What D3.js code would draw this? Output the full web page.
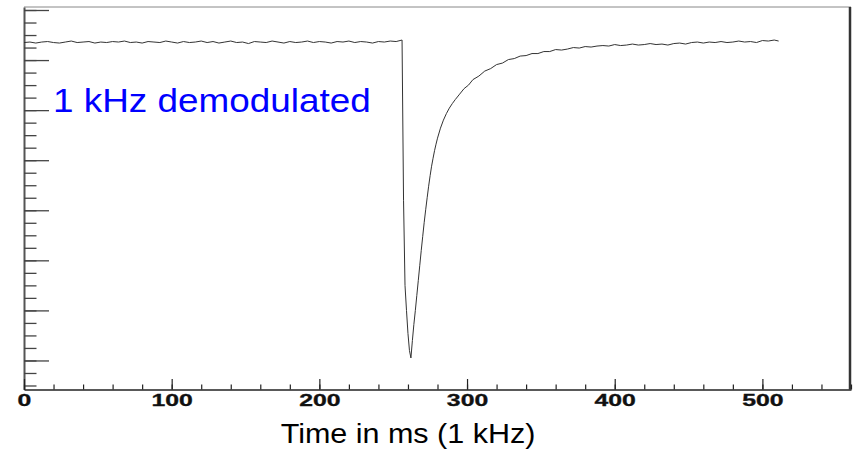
<!DOCTYPE html>
<html>
<head>
<meta charset="utf-8">
<script src="https://cdn.jsdelivr.net/npm/d3@7"></script>
<style>
  body { margin: 0; background: #fff; }
  svg { display: block; }
</style>
</head>
<body>
<div id="root"></div>
<script>
const width = 855;
const height = 454;

// samples before the dip, every 4 ms from 0 to 256
const preTime = d3.range(0, 257, 4);
const preSignal = [
  6.35, 6.36, 6.34, 6.36, 6.37, 6.35, 6.34, 6.36, 6.38, 6.35, 6.36, 6.37, 6.34, 6.36, 6.35, 6.37,
  6.36, 6.38, 6.35, 6.36, 6.34, 6.37, 6.36, 6.35, 6.38, 6.36, 6.34, 6.37, 6.35, 6.36, 6.38, 6.35,
  6.37, 6.34, 6.36, 6.38, 6.35, 6.36, 6.33, 6.37, 6.36, 6.35, 6.38, 6.36, 6.34, 6.37, 6.35, 6.36,
  6.38, 6.35, 6.37, 6.36, 6.34, 6.37, 6.36, 6.38, 6.35, 6.37, 6.36, 6.34, 6.37, 6.36, 6.38, 6.37,
  6.40
];

// the dip and the recovery
const dipTime = [
  257, 258, 259, 260, 261, 262, 263, 264, 265, 266, 267, 268, 269, 270, 271, 272, 273, 274,
  275, 276, 277, 278, 279, 280, 282, 284, 286, 288, 290, 292, 295, 298, 301, 304, 308, 312,
  316, 320, 324, 328, 332, 336, 340, 344, 348, 352, 356, 360, 364
];
const dipSignal = [
  3.20, 1.50, 1.00, 0.54, 0.20, 0.05, 0.40, 0.72, 1.00, 1.30, 1.60, 1.90, 2.20, 2.48, 2.76, 3.01, 3.25, 3.48,
  3.69, 3.88, 4.04, 4.19, 4.32, 4.44, 4.64, 4.80, 4.93, 5.04, 5.13, 5.21, 5.32, 5.43, 5.50, 5.61, 5.68, 5.78,
  5.83, 5.91, 5.94, 6.01, 6.03, 6.08, 6.09, 6.13, 6.13, 6.17, 6.17, 6.21, 6.20
];

const postTime = [
  368, 372, 376, 380, 384, 388, 392, 396, 400, 404, 408, 412, 416, 420, 424, 428, 432, 436, 440,
  444, 448, 452, 456, 460, 464, 468, 472, 476, 480, 484, 488, 492, 496, 500, 504, 508, 511
];
const postSignal = [
  6.22, 6.25, 6.24, 6.27, 6.26, 6.28, 6.29, 6.28, 6.31, 6.29, 6.30, 6.32, 6.30, 6.31, 6.33, 6.31, 6.32, 6.30, 6.33,
  6.34, 6.32, 6.35, 6.36, 6.34, 6.36, 6.35, 6.37, 6.35, 6.36, 6.38, 6.36, 6.37, 6.35, 6.39, 6.38, 6.40, 6.38
];

const xMajor = [0, 100, 200, 300, 400, 500];
const xMinor = d3.range(0, 561, 20);
const yMajor = d3.range(0, 8, 1);
const yMinor = d3.range(-0.5, 7.01, 0.25);

const xLabel = "Time in ms (1 kHz)";
const note = "1 kHz demodulated";

const data = []
  .concat(preTime.map((t, i) => ({ t: t, v: preSignal[i] })))
  .concat(dipTime.map((t, i) => ({ t: t, v: dipSignal[i] })))
  .concat(postTime.map((t, i) => ({ t: t, v: postSignal[i] })));

const x = d3.scaleLinear().domain([0, 560]).range([24, 851]);
const y = d3.scaleLinear().domain([-0.58, 7.06]).range([389.5, 7]);

const svg = d3.select("#root")
  .append("svg")
    .attr("width", width)
    .attr("height", height);

// frame top and right
svg.append("line")
  .attr("x1", x.range()[0]).attr("x2", x.range()[1])
  .attr("y1", y.range()[1]).attr("y2", y.range()[1])
  .attr("stroke", "#888").attr("stroke-width", 1);
svg.append("line")
  .attr("x1", x.range()[1] - 1).attr("x2", x.range()[1] - 1)
  .attr("y1", y.range()[1]).attr("y2", y.range()[0])
  .attr("stroke", "#333").attr("stroke-width", 2.5);

// y axis, ticks inside, no labels
const yAxisMajor = svg.append("g")
  .attr("transform", `translate(${x.range()[0]},0)`)
  .call(d3.axisRight(y).tickValues(yMajor).tickSize(25).tickSizeOuter(0).tickFormat(""));
yAxisMajor.select(".domain").attr("stroke", "#555").attr("stroke-width", 2);
yAxisMajor.selectAll(".tick line").attr("stroke", "#444").attr("stroke-width", 1.3);

const yAxisMinor = svg.append("g")
  .attr("transform", `translate(${x.range()[0]},0)`)
  .call(d3.axisRight(y).tickValues(yMinor).tickSize(12.5).tickSizeOuter(0).tickFormat(""));
yAxisMinor.select(".domain").remove();
yAxisMinor.selectAll(".tick line").attr("stroke", "#444").attr("stroke-width", 1.3);

// x axis
const xAxisMajor = svg.append("g")
  .attr("transform", `translate(0,${y.range()[0]})`)
  .call(d3.axisTop(x).tickValues(xMajor).tickSize(10.5).tickSizeOuter(0).tickFormat(""));
xAxisMajor.select(".domain").attr("stroke", "#222").attr("stroke-width", 1.5);
xAxisMajor.selectAll(".tick line").attr("stroke", "#222").attr("stroke-width", 1.2);

const xAxisMinor = svg.append("g")
  .attr("transform", `translate(0,${y.range()[0]})`)
  .call(d3.axisTop(x).tickValues(xMinor).tickSize(5).tickSizeOuter(0).tickFormat(""));
xAxisMinor.select(".domain").remove();
xAxisMinor.selectAll(".tick line").attr("stroke", "#222").attr("stroke-width", 1.2);

const xAxisLabels = svg.append("g")
  .attr("transform", `translate(0,${y.range()[0]})`)
  .call(d3.axisBottom(x).tickValues(xMajor).tickSize(0).tickPadding(5.5));
xAxisLabels.select(".domain").remove();
xAxisLabels.selectAll(".tick text")
  .attr("transform", "scale(1.55,1)")
  .attr("fill", "#111")
  .attr("stroke", "#111")
  .attr("stroke-width", 0.3)
  .style("font-family", "'Liberation Sans', Arial, sans-serif")
  .style("font-weight", "bold")
  .style("font-size", "16px");

// the signal
svg.append("path")
  .datum(data)
  .attr("fill", "none")
  .attr("stroke", "#333")
  .attr("stroke-width", 1)
  .attr("d", d3.line().x(d => x(d.t)).y(d => y(d.v)));

// axis title
svg.append("text")
  .attr("transform", "translate(408,442.5) scale(1.09,1)")
  .attr("text-anchor", "middle")
  .attr("fill", "#000")
  .style("font-family", "'Liberation Sans', Arial, sans-serif")
  .style("font-size", "28px")
  .text(xLabel);

// label inside the frame
svg.append("text")
  .attr("transform", "translate(53,111.5) scale(1.085,1)")
  .attr("fill", "#0000ff")
  .style("font-family", "'Liberation Sans', Arial, sans-serif")
  .style("font-size", "34px")
  .text(note);
</script>
</body>
</html>
